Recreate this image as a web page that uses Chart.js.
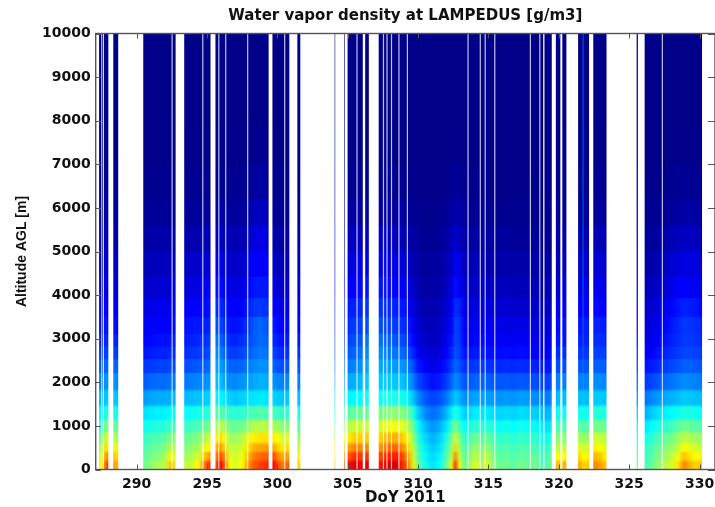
<!DOCTYPE html>
<html>
<head>
<meta charset="utf-8">
<title>Water vapor density at LAMPEDUS</title>
<script src="https://cdn.jsdelivr.net/npm/chart.js@4/dist/chart.umd.min.js"></script>
<style>
    html, body { margin: 0; padding: 0; background: #fff; }
    canvas { display: block; }
</style>
</head>
<body>
<canvas id="vaporChart" width="715" height="507"></canvas>
<script>
const xTicks = [290, 295, 300, 305, 310, 315, 320, 325, 330];
const yTicks = [0, 1000, 2000, 3000, 4000, 5000, 6000, 7000, 8000, 9000, 10000];

// band edges in metres
const levels = [0, 200, 400, 600, 850, 1130, 1460, 1820, 2210, 2530, 2820, 3110, 3500, 3930, 4420, 5000, 5590, 6180, 7000, 8000, 10000];

const days = [
    287.35, 287.6, 287.75, 287.95, 288.4, 288.65, 290.5, 291, 291.5, 292, 292.4, 292.6, 292.75,
    293.4, 293.9, 294.4, 294.8, 295.1, 295.6, 295.9, 296.2, 296.6, 297, 297.5, 297.9, 298.3, 298.8, 299.3,
    299.7, 300, 300.4, 300.8, 301.5, 304.1, 304.8,
    305, 305.5, 306, 306.3, 307.2, 307.6, 308, 308.5, 309, 309.3, 309.7, 310, 310.5, 311, 311.5, 312, 312.4, 312.65, 312.9,
    313.3, 313.7, 314.1, 314.5, 314.9, 315.3, 315.8, 316.3, 316.8, 317.3, 317.8, 318.3, 318.8, 319.3, 319.85, 320.4,
    321.4, 321.65, 321.72, 321.8, 322, 322.5, 323, 323.35, 325.6,
    326.2, 326.6, 327, 327.5, 328, 328.5, 328.9, 329.3, 329.8, 330.15
];

// g/m3, one row per entry of days, one value per band
const density = [
    [10,9.2,8.4,7.6,6.7,5.8,4.8,4,3.3,2.8,2.4,2.1,1.8,1.4,1,.7,.4,.2,.06,.02],
    [10.5,9.6,8.8,8,6.9,5.9,4.8,4,3.4,2.8,2.4,2.1,1.8,1.4,1,.7,.4,.2,.06,.02],
    [12.5,11.5,10.4,9.4,8,6.6,5.2,4.3,3.6,3,2.6,2.3,2,1.6,1.2,.8,.5,.25,.08,.02],
    [13,11.8,10.4,9.3,7.8,6.5,5.2,4.3,3.6,3,2.6,2.3,2,1.6,1.2,.8,.5,.25,.08,.02],
    [11.5,10.8,9.8,8.8,7.6,6.4,5.2,4.3,3.6,3,2.6,2.2,1.9,1.5,1.1,.7,.4,.2,.06,.02],
    [11.2,10.5,9.5,8.6,7.4,6.2,5,4.2,3.5,2.9,2.5,2.1,1.8,1.4,1,.6,.35,.18,.05,.02],
    [7.6,7.4,7.1,6.8,6.2,5.5,4.4,3.4,2.8,2.3,2,1.8,1.5,1.1,.8,.5,.25,.12,.04,.01],
    [8.2,7.9,7.5,7.1,6.4,5.7,4.6,3.6,2.9,2.4,2.1,1.9,1.6,1.2,.85,.5,.28,.14,.05,.02],
    [8.6,8.1,7.7,7.2,6.5,5.8,4.7,3.7,3,2.5,2.2,2,1.7,1.25,.9,.55,.3,.15,.05,.02],
    [9,8.5,8,7.4,6.6,5.8,4.7,3.7,3,2.5,2.2,2,1.7,1.25,.9,.55,.3,.15,.05,.02],
    [10.8,9.8,8.8,8,7,6,4.8,3.8,3.1,2.6,2.3,2,1.7,1.3,.9,.55,.3,.15,.05,.02],
    [11,10,9,8.2,7.1,6.1,4.9,3.9,3.2,2.7,2.4,2.1,1.8,1.4,1,.6,.3,.15,.05,.02],
    [9.8,9.2,8.6,8,7,6,4.9,3.9,3.2,2.7,2.4,2.1,1.8,1.4,1,.6,.3,.15,.05,.02],
    [8.8,8.4,8,7.5,6.8,6,4.9,3.9,3.2,2.7,2.4,2.2,1.8,1.4,1,.6,.3,.15,.05,.02],
    [9.3,8.8,8.3,7.8,7,6.2,5,4,3.3,2.8,2.5,2.3,1.9,1.5,1.1,.65,.35,.16,.05,.02],
    [10,9.4,8.7,8.1,7.2,6.3,5.1,4.1,3.4,2.9,2.6,2.3,2,1.6,1.2,.7,.35,.17,.05,.02],
    [12,10.8,9.6,8.7,7.5,6.5,5.2,4.2,3.5,3,2.7,2.4,2.1,1.7,1.3,.8,.4,.18,.05,.02],
    [13.2,11.5,10,9,7.8,6.6,5.3,4.3,3.6,3.1,2.8,2.5,2.2,1.8,1.3,.8,.4,.2,.06,.02],
    [12.5,11.8,11,10,8.6,7,5.8,5,4.6,4.2,3.8,3.2,2.7,2.2,1.6,1,.5,.22,.07,.02],
    [14.2,13,11.8,10.6,9,7.4,5.9,5,4.5,4.1,3.7,3.2,2.7,2.2,1.6,1,.5,.22,.07,.02],
    [13,12,10.8,9.8,8.6,7.2,5.7,4.7,4.2,3.7,3.2,2.8,2.4,1.9,1.4,.9,.45,.2,.06,.02],
    [10,9.6,9.2,8.6,7.8,6.8,5.3,4.2,3.6,3,2.6,2.3,2,1.6,1.2,.8,.4,.18,.05,.02],
    [9.4,9.2,8.9,8.4,7.6,6.6,5.1,4.1,3.5,2.9,2.5,2.2,1.9,1.5,1.1,.7,.35,.16,.05,.02],
    [10,9.8,9.4,8.8,7.8,6.7,5.3,4.3,3.6,3.1,2.7,2.4,2,1.6,1.2,.8,.4,.17,.05,.02],
    [11.6,11,10.4,9.6,8.3,7,5.5,4.5,3.9,3.4,3.1,2.8,2.4,2,1.6,1,.5,.2,.06,.02],
    [12.6,12,11.2,10.2,8.8,7.2,5.6,4.6,4.1,3.7,3.4,3.4,2.8,2.3,1.9,1.4,.8,.35,.1,.03],
    [13,12.4,11.4,10.4,8.9,7.3,5.7,4.8,4.3,3.9,3.7,3.6,2.9,2.4,2,1.6,1,.5,.15,.04],
    [13.4,12.6,11.6,10.4,8.8,7.2,5.6,4.7,4.2,3.8,3.5,3.3,2.7,2.3,1.9,1.4,.8,.35,.1,.03],
    [14.2,13,11.4,10.2,8.8,7.2,5.4,4.3,3.6,3.1,2.7,2.4,2,1.5,1.1,.7,.35,.15,.05,.02],
    [13,12,10.8,9.8,8.4,6.9,5.2,4.1,3.3,2.8,2.4,2.1,1.7,1.3,.9,.5,.25,.12,.04,.01],
    [12,11.2,10.2,9.4,8.2,6.8,5.1,4,3.2,2.6,2.2,2,1.6,1.2,.85,.5,.25,.12,.04,.01],
    [12.6,11.6,10.5,9.5,8.2,6.8,5.2,4.2,3.4,2.8,2.4,2.1,1.7,1.3,.9,.55,.3,.14,.05,.02],
    [10.5,9.8,9,8.3,7.4,6.4,5,4,3.3,2.8,2.4,2.1,1.8,1.4,1,.6,.35,.2,.08,.03],
    [11,10.4,9.6,8.8,7.8,6.6,5.4,4.4,3.8,3.3,3,2.7,2.4,2,1.6,1,.5,.2,.06,.02],
    [13,12,10.8,9.8,8.4,7,5.6,4.5,3.8,3.3,3,2.7,2.4,1.9,1.4,.9,.45,.2,.06,.02],
    [13.8,12.6,11.4,10.2,8.8,7.4,5.8,4.6,3.9,3.4,3,2.7,2.4,1.9,1.4,.9,.45,.2,.06,.02],
    [14.6,13.4,12,10.8,9.2,7.6,6,4.8,4.1,3.6,3.2,2.9,2.5,2,1.5,.95,.5,.2,.06,.02],
    [14,13,11.8,10.6,9.2,7.6,6,4.9,4.3,3.8,3.4,3,2.6,2.1,1.6,1,.5,.22,.07,.02],
    [14.5,13.2,12,10.8,9.2,7.6,6.2,5.2,4.7,4.2,3.8,3.3,2.8,2.3,1.7,1.1,.55,.25,.08,.02],
    [13.6,12.8,11.6,10.6,9.2,7.8,6.2,5.2,4.7,4.2,3.8,3.3,2.8,2.3,1.7,1.1,.55,.25,.08,.02],
    [14.2,13.2,12,11,9.6,8,6.4,5.2,4.6,4.1,3.6,3.1,2.7,2.2,1.7,1.1,.55,.25,.08,.02],
    [14.6,13.6,12.4,11.2,9.8,8.2,6.4,5.2,4.5,3.9,3.5,3,2.6,2.1,1.6,1,.5,.22,.07,.02],
    [14.6,13.6,12.4,11.2,9.8,8.2,6.4,5.1,4.4,3.8,3.3,2.9,2.5,2,1.5,.95,.5,.2,.06,.02],
    [13.2,12.6,11.6,10.6,9.4,8,6.2,5,4.3,3.6,3.1,2.7,2.3,1.8,1.3,.8,.4,.18,.05,.02],
    [12,11.4,10.6,9.8,8.8,7.6,5.8,4.6,3.9,3.2,2.7,2.3,1.9,1.5,1.1,.65,.35,.15,.05,.02],
    [9.6,9.2,8.7,8.2,7.4,6.4,5,3.9,3.1,2.5,2,1.7,1.4,1.1,.75,.45,.22,.1,.03,.01],
    [7.6,7.3,7,6.6,6,5.2,4.1,3.1,2.3,1.8,1.4,1.2,.95,.7,.5,.3,.15,.07,.03,.01],
    [6.2,6,5.8,5.4,4.9,4.2,3.4,2.6,1.9,1.4,1.1,.9,.7,.5,.35,.2,.1,.05,.02,.01],
    [5.6,5.4,5.1,4.8,4.3,3.7,3,2.2,1.6,1.2,.95,.8,.65,.5,.35,.2,.1,.05,.02,.01],
    [6,5.8,5.5,5.2,4.7,4,3.2,2.4,1.8,1.4,1.1,1,.8,.6,.45,.3,.15,.07,.03,.01],
    [7.6,7.2,6.8,6.3,5.6,4.8,3.8,2.9,2.3,1.9,1.6,1.4,1.2,.9,.7,.45,.25,.1,.04,.01],
    [9.6,9,8.4,7.8,6.8,5.8,4.6,3.6,3,2.6,2.3,2.1,1.8,1.5,1.1,.8,.45,.2,.06,.02],
    [13.6,12,10.6,9.4,8,6.6,5.2,4.2,3.6,3.3,3.1,3,2.7,2.2,1.8,1.2,.7,.3,.08,.02],
    [9.8,9.2,8.6,8,7,6,4.8,3.9,3.3,3,2.9,2.8,2.5,2,1.6,1,.6,.25,.07,.02],
    [7.6,7.4,7.1,6.7,6,5.2,4.2,3.3,2.7,2.3,2,1.8,1.5,1.2,.9,.55,.3,.12,.04,.01],
    [8.6,8.2,7.8,7.2,6.4,5.5,4.4,3.4,2.8,2.3,2,1.7,1.4,1,.7,.45,.25,.1,.03,.01],
    [9.6,9.1,8.5,7.8,6.8,5.8,4.6,3.6,2.9,2.4,2.1,1.9,1.5,1.1,.8,.5,.25,.1,.03,.01],
    [8.6,8.3,7.9,7.4,6.6,5.6,4.5,3.5,2.9,2.4,2.1,1.9,1.5,1.1,.8,.5,.25,.1,.03,.01],
    [9.6,9.1,8.4,7.7,6.7,5.7,4.5,3.5,2.8,2.3,2,1.8,1.4,1,.7,.45,.2,.1,.03,.01],
    [8.2,7.9,7.6,7.1,6.4,5.5,4.4,3.4,2.7,2.2,1.9,1.7,1.3,1,.7,.4,.2,.08,.03,.01],
    [7.6,7.4,7.1,6.7,6.1,5.3,4.3,3.3,2.6,2.1,1.8,1.6,1.2,.9,.6,.35,.15,.07,.02,.01],
    [7.8,7.6,7.3,6.9,6.3,5.5,4.4,3.4,2.7,2.2,1.9,1.6,1.3,.9,.6,.35,.15,.07,.02,.01],
    [7.4,7.2,7,6.6,6,5.3,4.3,3.3,2.6,2.1,1.8,1.5,1.2,.85,.55,.3,.13,.06,.02,.01],
    [7.9,7.6,7.3,6.9,6.3,5.5,4.5,3.4,2.7,2.2,1.9,1.6,1.2,.85,.55,.3,.12,.05,.02,.01],
    [7.6,7.4,7.1,6.7,6.1,5.4,4.4,3.3,2.6,2.1,1.8,1.5,1.15,.85,.55,.3,.12,.05,.02,.01],
    [7.8,7.6,7.2,6.8,6.1,5.3,4.2,3.2,2.5,2,1.7,1.5,1.1,.8,.5,.25,.1,.05,.02,.01],
    [7.2,7,6.7,6.3,5.7,5,4,3.1,2.4,1.9,1.6,1.4,1,.7,.45,.22,.1,.05,.02,.01],
    [7.4,7.1,6.7,6.2,5.5,4.8,3.9,3,2.3,1.8,1.5,1.3,.9,.6,.4,.2,.1,.05,.02,.01],
    [11,10,9,8.2,7.2,6.1,5,4,3.2,2.7,2.3,2.1,1.7,1.3,.9,.6,.3,.15,.05,.02],
    [11.2,10,9,8.2,7.2,6.2,5,4,3.2,2.7,2.3,2.2,1.8,1.4,1,.6,.3,.15,.05,.02],
    [11.4,10.6,9.6,8.6,7.4,6.3,5,4,3.3,2.8,2.5,2.3,1.9,1.5,1.1,.7,.35,.15,.05,.02],
    [11,10.3,9.4,8.5,7.4,6.3,5,4,3.3,2.8,2.5,2.3,1.9,1.5,1.1,.7,.35,.15,.05,.02],
    [10.5,10,9.2,8.4,7.4,6.4,5.2,4.4,3.8,3.6,3.5,3.5,3.4,3.4,3.4,3.4,3.4,3.4,3.4,3.4],
    [10.7,10.1,9.3,8.4,7.3,6.2,5,4,3.3,2.8,2.5,2.4,2,1.6,1.2,.7,.35,.15,.05,.02],
    [10.6,10,9.2,8.4,7.3,6.2,5,4,3.3,2.8,2.5,2.4,2,1.6,1.2,.7,.35,.15,.05,.02],
    [12,11.2,10.2,9.2,7.8,6.6,5.2,4.2,3.5,3,2.7,2.5,2.1,1.7,1.3,.8,.4,.18,.05,.02],
    [11.4,10.8,10,9.1,7.8,6.6,5.2,4.2,3.5,3,2.7,2.5,2.1,1.7,1.3,.8,.4,.18,.05,.02],
    [10.8,10.2,9.4,8.7,7.6,6.4,5.1,4.1,3.4,2.9,2.6,2.4,2,1.6,1.2,.7,.35,.15,.05,.02],
    [8,7.6,7.2,6.8,6,5.2,4.3,3.5,3,2.6,2.3,2.1,1.8,1.4,1.1,.8,.5,.25,.08,.02],
    [7,6.9,6.7,6.3,5.7,4.8,3.8,2.9,2.3,1.9,1.6,1.4,1.1,.8,.55,.3,.15,.06,.02,.01],
    [7.6,7.4,7.1,6.7,6,5.2,4.1,3.1,2.4,2,1.7,1.5,1.2,.9,.6,.35,.18,.08,.02,.01],
    [8.2,7.9,7.6,7.1,6.4,5.5,4.4,3.3,2.6,2.2,1.9,1.7,1.4,1,.7,.4,.2,.08,.03,.01],
    [8.8,8.4,8,7.5,6.7,5.8,4.6,3.6,2.9,2.5,2.2,2,1.7,1.3,.95,.55,.25,.1,.03,.01],
    [9.4,9,8.4,7.8,7,6,4.8,3.8,3.1,2.7,2.5,2.3,2,1.6,1.2,.75,.35,.14,.04,.02],
    [10.4,9.8,9,8.4,7.4,6.2,5,4,3.3,2.9,2.7,2.6,2.3,1.9,1.4,.9,.45,.18,.05,.02],
    [12,11,10,9,7.8,6.5,5.2,4.2,3.5,3.1,2.9,2.9,2.5,2,1.5,1,.5,.2,.06,.02],
    [11.2,10.4,9.6,8.8,7.6,6.4,5.1,4.1,3.5,3.1,2.9,2.8,2.4,1.9,1.5,1,.5,.2,.06,.02],
    [10.6,10,9.2,8.4,7.4,6.2,5,4,3.4,3,2.8,2.7,2.3,1.8,1.4,.9,.45,.18,.05,.02],
    [11,10.2,9.2,8.4,7.3,6.1,4.9,3.9,3.3,2.9,2.6,2.5,2.1,1.6,1.2,.8,.4,.16,.05,.02]
];

// day ranges with no soundings
const gaps = [
    [287.05, 287.33], [287.62, 287.68], [287.99, 288.34], [288.69, 290.47], [292.77, 293.38],
    [295.25, 295.60], [299.38, 299.65], [300.85, 301.42], [301.63, 304.07], [304.11, 304.75],
    [304.79, 304.99], [306.07, 306.24], [306.50, 307.20], [318.89, 318.98], [319.50, 319.79],
    [320.11, 320.25], [320.54, 321.37], [322.15, 322.45], [323.40, 325.53], [325.62, 326.10],
    [330.18, 331.20]
];

// single missing profiles, show up as thin pale lines
const stripes = [
    287.52, 292.52, 294.70, 295.84, 296.33, 297.89, 300.52, 305.66, 307.54, 307.79, 308.11, 308.64,
    309.24, 313.55, 314.42, 314.77, 315.45, 317.98, 318.65, 323.45, 327.36
];

const V_MAX = 16;
const JET = [
    [0, 0, 0, 135], [0.125, 0, 0, 255], [0.375, 0, 255, 255],
    [0.625, 255, 255, 0], [0.875, 255, 0, 0], [1, 128, 0, 0]
];

function jetColor(v) {
    const t = Math.min(1, Math.max(0, v / V_MAX));
    let i = 0;
    while (i < JET.length - 2 && t > JET[i + 1][0]) i++;
    const a = JET[i], b = JET[i + 1];
    const f = (t - a[0]) / (b[0] - a[0]);
    const ch = n => Math.round(a[n] + (b[n] - a[n]) * f);
    return `rgb(${ch(1)},${ch(2)},${ch(3)})`;
}

// one (hidden) point dataset per band, the plugin below paints them
const bands = levels.slice(0, -1).map((lo, k) => ({
    label: lo + ' m',
    top: levels[k + 1],
    data: days.map((d, i) => ({ x: d, y: lo, v: density[i][k] })),
    pointRadius: 0,
    showLine: false,
}));

const heatPlugin = {
    id: 'heat',
    beforeDatasetsDraw(chart) {
        const { ctx, chartArea: area, scales: { x, y } } = chart;
        const x0 = x.getPixelForValue(days[0]);
        const x1 = x.getPixelForValue(days[days.length - 1]);
        ctx.save();
        ctx.beginPath();
        ctx.rect(area.left, area.top, area.right - area.left, area.bottom - area.top);
        ctx.clip();
        // top band first, each lower band runs down past the axis so soft edges leave no seams
        [...chart.data.datasets].reverse().forEach(ds => {
            const grad = ctx.createLinearGradient(x0, 0, x1, 0);
            ds.data.forEach(p => {
                grad.addColorStop((x.getPixelForValue(p.x) - x0) / (x1 - x0), jetColor(p.v));
            });
            const yTop = y.getPixelForValue(ds.top);
            ctx.filter = ds.top <= 1820 ? 'blur(1.3px)' : 'blur(0.6px)';
            ctx.fillStyle = grad;
            ctx.fillRect(area.left - 20, yTop, area.right - area.left + 40, area.bottom - yTop + 20);
        });
        ctx.filter = 'none';
        ctx.fillStyle = '#fff';
        gaps.forEach(g => {
            const a = x.getPixelForValue(g[0]);
            ctx.fillRect(a, area.top, x.getPixelForValue(g[1]) - a, area.bottom - area.top);
        });
        ctx.fillStyle = 'rgba(255,255,255,0.75)';
        stripes.forEach(d => {
            ctx.fillRect(x.getPixelForValue(d) - 0.6, area.top, 1.2, area.bottom - area.top);
        });
        ctx.restore();
    },
    afterDatasetsDraw(chart) {
        // matlab style box, ticks point inwards on all four sides
        const { ctx, chartArea: area, scales: { x, y } } = chart;
        ctx.save();
        ctx.strokeStyle = '#555';
        ctx.lineWidth = 1;
        ctx.beginPath();
        xTicks.forEach(t => {
            const px = Math.round(x.getPixelForValue(t)) + 0.5;
            ctx.moveTo(px, area.bottom); ctx.lineTo(px, area.bottom - 5);
            ctx.moveTo(px, area.top); ctx.lineTo(px, area.top + 5);
        });
        yTicks.forEach(t => {
            const py = Math.round(y.getPixelForValue(t)) + 0.5;
            ctx.moveTo(area.left, py); ctx.lineTo(area.left + 5, py);
            ctx.moveTo(area.right, py); ctx.lineTo(area.right - 7, py);
        });
        ctx.stroke();
        ctx.lineWidth = 1.4;
        ctx.strokeRect(area.left, area.top, area.right - area.left, area.bottom - area.top);
        ctx.restore();
    },
};

const textFont = { family: '"DejaVu Sans"', size: 14, weight: 'bold' };

new Chart(document.getElementById('vaporChart').getContext('2d'), {
    type: 'scatter',
    data: { datasets: bands },
    plugins: [heatPlugin],
    options: {
        responsive: false,
        animation: false,
        events: [],
        layout: { padding: { right: -1.5 }, autoPadding: false },
        plugins: {
            legend: { display: false },
            tooltip: { enabled: false },
            title: {
                display: true,
                text: 'Water vapor density at LAMPEDUS [g/m3]',
                color: '#111',
                fullSize: false,
                font: { family: '"DejaVu Sans"', size: 15, weight: 'bold' },
                padding: { top: 7.5, bottom: 8 },
            },
        },
        scales: {
            x: {
                type: 'linear',
                min: 287.09,
                max: 331.1,
                grid: { display: false, drawTicks: false },
                border: { display: false },
                afterBuildTicks(scale) { scale.ticks = xTicks.map(value => ({ value })); },
                afterFit(scale) { scale.height = 37.5; scale.paddingRight = 0; scale.paddingLeft = 0; },
                ticks: { color: '#111', font: textFont, padding: 6, maxRotation: 0, autoSkip: false, callback: v => v },
                title: {
                    display: true,
                    text: 'DoY 2011',
                    color: '#111',
                    font: { family: '"DejaVu Sans"', size: 15, weight: 'bold' },
                    padding: 0,
                },
            },
            y: {
                type: 'linear',
                min: 0,
                max: 10000,
                grid: { display: false, drawTicks: false },
                border: { display: false },
                afterBuildTicks(scale) { scale.ticks = yTicks.map(value => ({ value })); },
                afterFit(scale) { scale.width = 95.7; },
                ticks: { color: '#111', font: textFont, padding: 5, autoSkip: false, callback: v => v },
                title: {
                    display: true,
                    text: 'Altitude AGL [m]',
                    color: '#111',
                    font: { family: '"Liberation Sans"', size: 14, weight: 'bold' },
                    padding: { top: 13.5, bottom: 0 },
                },
            },
        },
    },
});
</script>
</body>
</html>
